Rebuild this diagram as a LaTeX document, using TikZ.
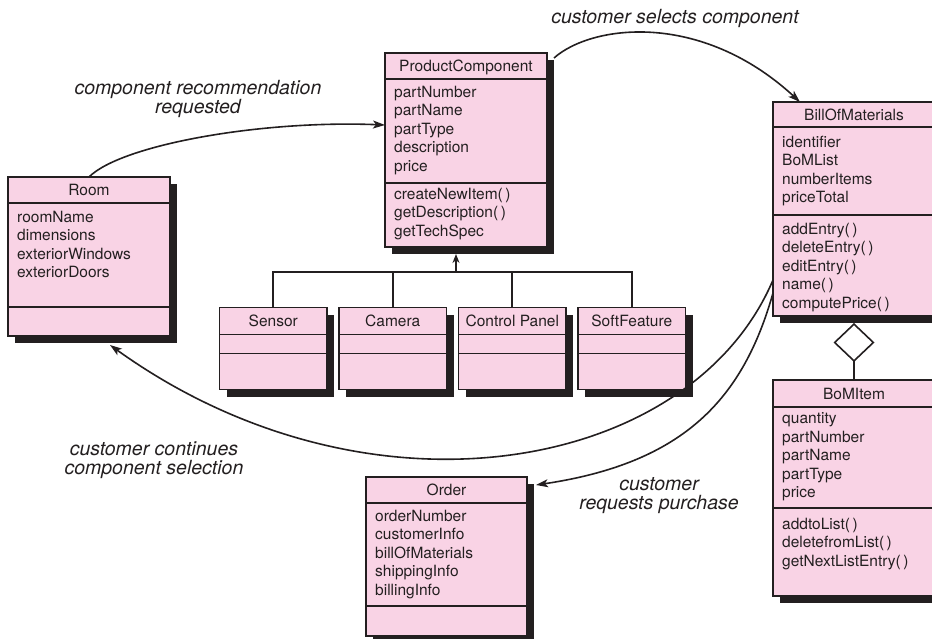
\documentclass[tikz,border=0pt]{standalone}
\usepackage{fontspec}
\setmainfont{TeX Gyre Heros}
\usetikzlibrary{positioning, backgrounds, arrows.meta}
\definecolor{classpink}{RGB}{249,211,229}
\definecolor{inkblack}{RGB}{35,31,32}

\begin{document}
\begin{tikzpicture}[x=1pt, y=-1pt]
    % Define styles
    \tikzstyle{classbox} = [rectangle, draw=inkblack, line width=1.4pt, fill=classpink, anchor=north west, inner sep=0pt, outer sep=0pt]
    \tikzstyle{boxshadow} = [fill=inkblack]
    \tikzstyle{divider} = [draw=inkblack, line width=1.4pt]
    \tikzstyle{classname} = [font=\fontsize{15.5}{18.5}\selectfont, text height=11.1pt, text depth=0pt, inner sep=0pt, text=inkblack]
    \tikzstyle{fields} = [font=\fontsize{15.5}{18.5}\selectfont, align=left, anchor=north west, inner sep=0pt, text=inkblack]
    \tikzstyle{flowtext} = [font=\fontsize{19.5}{19}\selectfont\itshape, align=center, anchor=north, inner sep=0pt, text=inkblack]
    \tikzstyle{link} = [draw=inkblack, line width=1.6pt]
    \tikzstyle{arrow} = [link, -{Stealth[length=12pt, width=8pt, inset=3pt]}]

    \useasboundingbox (0,0) rectangle (932,639);

    % Room
    \node (room) [classbox, minimum width=162pt, minimum height=159pt] at (8,177) {};
    \draw [divider] ([yshift=-26pt]room.north west) -- ([yshift=-26pt]room.north east);
    \draw [divider] ([yshift=-130pt]room.north west) -- ([yshift=-130pt]room.north east);
    \node [classname] at ([yshift=-13pt]room.north) {Room};
    \node [fields] at ([xshift=9pt, yshift=-32pt]room.north west) {\strut roomName\\dimensions\\exteriorWindows\\exteriorDoors};

    % ProductComponent
    \node (prodcomp) [classbox, minimum width=162pt, minimum height=194pt] at (385,53) {};
    \draw [divider] ([yshift=-26pt]prodcomp.north west) -- ([yshift=-26pt]prodcomp.north east);
    \draw [divider] ([yshift=-130pt]prodcomp.north west) -- ([yshift=-130pt]prodcomp.north east);
    \node [classname] at ([yshift=-13pt]prodcomp.north) {ProductComponent};
    \node [fields] at ([xshift=9pt, yshift=-31pt]prodcomp.north west) {\strut partNumber\\partName\\partType\\description\\price};
    \node [fields] at ([xshift=9pt, yshift=-133pt]prodcomp.north west) {\strut createNewItem(\,)\\getDescription(\,)\\getTechSpec};

    % subclasses of ProductComponent
    \node (sensor) [classbox, minimum width=107.5pt, minimum height=82pt] at (219.5,307.5) {};
    \node (camera) [classbox, minimum width=107.5pt, minimum height=82pt, right=12pt of sensor] {};
    \node (ctrlpanel) [classbox, minimum width=107.5pt, minimum height=82pt, right=12pt of camera] {};
    \node (softfeat) [classbox, minimum width=107.5pt, minimum height=82pt, right=12pt of ctrlpanel] {};
    \draw [divider] ([yshift=-27pt]sensor.north west) -- ([yshift=-27pt]sensor.north east);
    \draw [divider] ([yshift=-46pt]sensor.north west) -- ([yshift=-46pt]sensor.north east);
    \draw [divider] ([yshift=-27pt]camera.north west) -- ([yshift=-27pt]camera.north east);
    \draw [divider] ([yshift=-46pt]camera.north west) -- ([yshift=-46pt]camera.north east);
    \draw [divider] ([yshift=-27pt]ctrlpanel.north west) -- ([yshift=-27pt]ctrlpanel.north east);
    \draw [divider] ([yshift=-46pt]ctrlpanel.north west) -- ([yshift=-46pt]ctrlpanel.north east);
    \draw [divider] ([yshift=-27pt]softfeat.north west) -- ([yshift=-27pt]softfeat.north east);
    \draw [divider] ([yshift=-46pt]softfeat.north west) -- ([yshift=-46pt]softfeat.north east);
    \node [classname] at ([yshift=-13.5pt]sensor.north) {Sensor};
    \node [classname] at ([yshift=-13.5pt]camera.north) {Camera};
    \node [classname] at ([yshift=-13.5pt]ctrlpanel.north) {Control Panel};
    \node [classname] at ([yshift=-13.5pt]softfeat.north) {SoftFeature};

    % BillOfMaterials
    \node (bom) [classbox, minimum width=162pt, minimum height=214pt] at (773,102) {};
    \draw [divider] ([yshift=-25pt]bom.north west) -- ([yshift=-25pt]bom.north east);
    \draw [divider] ([yshift=-113pt]bom.north west) -- ([yshift=-113pt]bom.north east);
    \node [classname] at ([yshift=-12.5pt]bom.north) {BillOfMaterials};
    \node [fields] at ([xshift=9pt, yshift=-32pt]bom.north west) {\strut identifier\\BoMList\\numberItems\\priceTotal};
    \node [fields] at ([xshift=9pt, yshift=-119pt]bom.north west) {\strut addEntry(\,)\\deleteEntry(\,)\\editEntry(\,)\\name(\,)\\computePrice(\,)};

    % BoMItem
    \node (bomitem) [classbox, minimum width=162pt, minimum height=216pt] at (773,380) {};
    \draw [divider] ([yshift=-27pt]bomitem.north west) -- ([yshift=-27pt]bomitem.north east);
    \draw [divider] ([yshift=-128pt]bomitem.north west) -- ([yshift=-128pt]bomitem.north east);
    \node [classname] at ([yshift=-13.5pt]bomitem.north) {BoMItem};
    \node [fields] at ([xshift=9pt, yshift=-30.5pt]bomitem.north west) {\strut quantity\\partNumber\\partName\\partType\\price};
    \node [fields] at ([xshift=9pt, yshift=-136pt]bomitem.north west) {\strut addtoList(\,)\\deletefromList(\,)\\getNextListEntry(\,)};

    % Order
    \node (order) [classbox, minimum width=161pt, minimum height=159pt] at (366,477) {};
    \draw [divider] ([yshift=-26pt]order.north west) -- ([yshift=-26pt]order.north east);
    \draw [divider] ([yshift=-129pt]order.north west) -- ([yshift=-129pt]order.north east);
    \node [classname] at ([yshift=-13pt]order.north) {Order};
    \node [fields] at ([xshift=9pt, yshift=-31pt]order.north west) {\strut orderNumber\\customerInfo\\billOfMaterials\\shippingInfo\\billingInfo};

    % Shadows behind the class boxes
    \begin{scope}[on background layer]
        \fill [boxshadow] ([xshift=7pt, yshift=-7pt]room.north west) rectangle ([xshift=7pt, yshift=-7pt]room.south east);
        \fill [boxshadow] ([xshift=7pt, yshift=-7pt]prodcomp.north west) rectangle ([xshift=7pt, yshift=-7pt]prodcomp.south east);
        \fill [boxshadow] ([xshift=7pt, yshift=-7pt]sensor.north west) rectangle ([xshift=7pt, yshift=-7pt]sensor.south east);
        \fill [boxshadow] ([xshift=7pt, yshift=-7pt]camera.north west) rectangle ([xshift=7pt, yshift=-7pt]camera.south east);
        \fill [boxshadow] ([xshift=7pt, yshift=-7pt]ctrlpanel.north west) rectangle ([xshift=7pt, yshift=-7pt]ctrlpanel.south east);
        \fill [boxshadow] ([xshift=7pt, yshift=-7pt]softfeat.north west) rectangle ([xshift=7pt, yshift=-7pt]softfeat.south east);
        \fill [boxshadow] ([xshift=7pt, yshift=-7pt]bom.north west) rectangle ([xshift=7pt, yshift=-7pt]bom.south east);
        \fill [boxshadow] ([xshift=7pt, yshift=-7pt]bomitem.north west) rectangle ([xshift=7pt, yshift=-7pt]bomitem.south east);
        \fill [boxshadow] ([xshift=7pt, yshift=-7pt]order.north west) rectangle ([xshift=7pt, yshift=-7pt]order.south east);
    \end{scope}

    % Generalization
    \coordinate (hub) at ([xshift=-10pt, yshift=-25pt]prodcomp.south);
    \draw [link] (sensor.north) |- (hub) -| (softfeat.north);
    \draw [link] (camera.north) -- (camera.north |- hub);
    \draw [link] (ctrlpanel.north) -- (ctrlpanel.north |- hub);
    \draw [link, -{Stealth[length=9pt, width=7pt]}] (hub) -- ([xshift=-10pt, yshift=-7pt]prodcomp.south);

    % Aggregation
    \draw [link, -{Diamond[open, length=39pt, width=41pt]}] (bomitem.north) -- ([yshift=-7pt]bom.south);

    % Navigation arrows
    \draw [arrow] (room.north) .. controls +(32,-32) and +(-125,-5) .. ([yshift=25pt]prodcomp.west);
    \draw [arrow] ([xshift=7pt, yshift=-5pt]prodcomp.north east) .. controls +(37,-33) and +(-100,-92) .. ([xshift=-54pt]bom.north);
    \draw [arrow] ([yshift=-71pt]bom.west) .. controls +(-82,193) and +(259,186) .. ([xshift=21pt, yshift=-9pt]room.south);
    \draw [arrow] ([yshift=-84pt]bom.west) .. controls +(-30,106) and +(148,-22) .. ([xshift=9pt, yshift=-8pt]order.north east);

    % Labels
    \node (lblselect) [flowtext] at (675,7) {\rule{0pt}{16pt}customer selects component};
    \node (lblrecommend) [flowtext] at (198,78) {\rule{0pt}{16pt}component recommendation\\requested};
    \node (lblcontinue) [flowtext] at (154,439) {\rule{0pt}{16pt}customer continues\\component selection};
    \node (lblpurchase) [flowtext] at (659,474) {\rule{0pt}{16pt}customer\\requests purchase};
\end{tikzpicture}
\end{document}
